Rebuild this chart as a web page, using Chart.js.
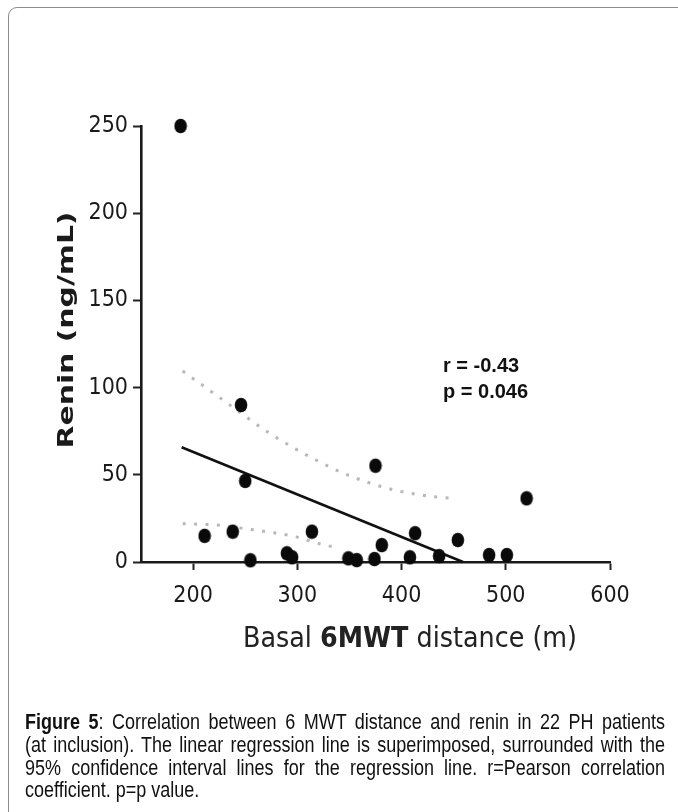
<!DOCTYPE html>
<html>
<head>
<meta charset="utf-8">
<script src="https://cdn.jsdelivr.net/npm/chart.js@4.4.1/dist/chart.umd.min.js"></script>
<style>
html,body{margin:0;padding:0;background:#fff;width:678px;height:812px;overflow:hidden;}
#frame{position:absolute;left:8px;top:7px;width:700px;height:840px;border:1px solid #8c8c8c;border-radius:9px;box-sizing:border-box;}
#c{position:absolute;left:0;top:0;}
#caption{position:absolute;left:25px;top:711px;width:640px;font-family:"Liberation Sans",Arial,sans-serif;font-size:18px;line-height:18.9px;color:#111;transform:scale(1,1.2);transform-origin:0 0;}
#caption div{text-align:justify;text-align-last:justify;}
#caption div.last{text-align-last:left;}
</style>
</head>
<body>
<div id="frame"></div>
<canvas id="c" width="678" height="812"></canvas>
<div id="caption">
<div><b>Figure 5</b>: Correlation between 6 MWT distance and renin in 22 PH patients</div>
<div>(at inclusion). The linear regression line is superimposed, surrounded with the</div>
<div>95% confidence interval lines for the regression line. r=Pearson correlation</div>
<div class="last">coefficient. p=p value.</div>
</div>
<script>
// ---- data ----
const distance = [188, 246, 250, 211, 238, 255, 290, 295, 314, 349, 357, 374, 381, 408, 413, 436, 454, 484, 501, 520, 375];
const renin    = [250, 90, 46.5, 15, 17.4, 1, 5, 2.7, 17.4, 2.1, 1.1, 1.7, 9.7, 2.7, 16.5, 3.4, 12.6, 4, 4, 36.5, 55.2];
const fitX = [189, 459];
const fitY = [65.8, 0];
const upperX = [190, 233, 255, 276, 299, 321, 343, 366, 389, 414, 437, 450];
const upperY = [109.5, 91, 81.4, 72.8, 64.6, 57.5, 51.2, 46, 41.9, 38.8, 37.1, 36.5];
const lowerX = [190, 226, 251, 275, 298, 322, 334];
const lowerY = [22, 21, 19, 17, 14.5, 10.3, 8.8];
const xTicks = [200, 300, 400, 500, 600];
const yTicks = [0, 50, 100, 150, 200, 250];
const xTitleParts = [["Basal ", false], ["6MWT", true], [" distance (m)", false]];
const yTitle = "Renin (ng/mL)";
const statLines = ["r = -0.43", "p = 0.046"];

const pts = (xs, ys) => xs.map((x, i) => ({x: x, y: ys[i]}));

// slightly oval marker, like the reference
const dot = document.createElement('canvas');
dot.width = 14; dot.height = 16;
(function(){
  const g = dot.getContext('2d');
  g.fillStyle = '#0a0a0a';
  g.beginPath(); g.ellipse(7, 8, 6.3, 7.3, 0, 0, Math.PI * 2); g.fill();
})();

const textPlugin = {
  id: 'texts',
  afterDraw(chart) {
    const ctx = chart.ctx;
    // y title
    ctx.save();
    ctx.fillStyle = '#1a1a1a';
    ctx.font = 'bold 21px "DejaVu Sans", sans-serif';
    const wy = ctx.measureText(yTitle).width;
    ctx.translate(68, 330);
    ctx.rotate(-Math.PI / 2);
    ctx.scale(237 / wy, 1);
    ctx.textAlign = 'center';
    ctx.textBaseline = 'middle';
    ctx.fillText(yTitle, 0, 0);
    ctx.restore();
    // x title
    ctx.save();
    ctx.fillStyle = '#222';
    const fN = '24px "DejaVu Sans", sans-serif';
    const fB = 'bold 24px "DejaVu Sans", sans-serif';
    let total = 0;
    const widths = xTitleParts.map(p => { ctx.font = p[1] ? fB : fN; const w = ctx.measureText(p[0]).width; total += w; return w; });
    const sx = 334 / total;
    ctx.translate(243, 640);
    ctx.scale(sx, 1.15);
    ctx.textBaseline = 'middle';
    ctx.textAlign = 'left';
    let xx = 0;
    xTitleParts.forEach((p, i) => { ctx.font = p[1] ? fB : fN; ctx.fillText(p[0], xx, 0); xx += widths[i]; });
    ctx.restore();
    // statistics
    ctx.save();
    ctx.fillStyle = '#111';
    ctx.font = 'bold 20px "Liberation Sans", Arial, sans-serif';
    ctx.textAlign = 'left';
    ctx.textBaseline = 'middle';
    ctx.fillText(statLines[0], 443, 366);
    ctx.fillText(statLines[1], 443, 392);
    ctx.restore();
  }
};

const tickFont = {family: '"Liberation Sans Narrow", "DejaVu Sans Condensed", sans-serif', size: 23};

new Chart(document.getElementById('c'), {
  type: 'scatter',
  data: {
    datasets: [
      {
        data: pts(distance, renin),
        pointStyle: dot,
        pointRadius: 7,
        order: 0,
        clip: false
      },
      {
        type: 'line',
        data: pts(fitX, fitY),
        borderColor: '#111',
        borderWidth: 2.6,
        pointRadius: 0,
        fill: false,
        order: 1,
        clip: false
      },
      {
        type: 'line',
        data: pts(upperX, upperY),
        borderColor: '#b8b8b8',
        borderWidth: 3,
        borderDash: [3, 8.4],
        cubicInterpolationMode: 'monotone',
        pointRadius: 0,
        fill: false,
        order: 2,
        clip: false
      },
      {
        type: 'line',
        data: pts(lowerX, lowerY),
        borderColor: '#b8b8b8',
        borderWidth: 3,
        borderDash: [3, 8.4],
        cubicInterpolationMode: 'monotone',
        pointRadius: 0,
        fill: false,
        order: 2,
        clip: false
      }
    ]
  },
  options: {
    responsive: false,
    animation: false,
    devicePixelRatio: 1,
    layout: {padding: {top: 126, right: 68, left: 0, bottom: 0}},
    plugins: {legend: {display: false}, tooltip: {enabled: false}},
    scales: {
      x: {
        type: 'linear',
        min: 150, max: 600,
        afterFit(s) { s.height = 250; },
        afterBuildTicks(s) { s.ticks = xTicks.map(v => ({value: v})); },
        grid: {display: true, drawOnChartArea: false, drawTicks: true, tickLength: 8, tickWidth: 2, tickColor: '#222'},
        border: {display: true, color: '#1a1a1a', width: 2.6},
        ticks: {font: tickFont, color: '#1a1a1a', padding: 12, maxRotation: 0, autoSkip: false}
      },
      y: {
        type: 'linear',
        min: 0, max: 250,
        afterFit(s) { s.width = 141; },
        afterBuildTicks(s) { s.ticks = yTicks.map(v => ({value: v})); },
        grid: {display: true, drawOnChartArea: false, drawTicks: true, tickLength: 8, tickWidth: 2, tickColor: '#222'},
        border: {display: true, color: '#1a1a1a', width: 2.6},
        ticks: {font: tickFont, color: '#1a1a1a', padding: 5, autoSkip: false}
      }
    }
  },
  plugins: [textPlugin]
});
</script>
</body>
</html>
